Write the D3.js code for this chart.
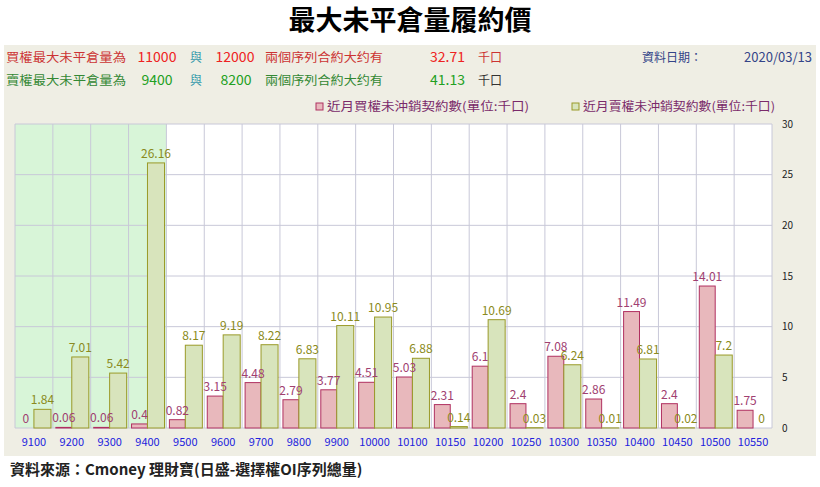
<!DOCTYPE html><html><head><meta charset="utf-8"><script src="https://cdn.jsdelivr.net/npm/d3@7"></script>
<style>body{margin:0;background:#fff;font-family:"Noto Sans CJK TC","Noto Sans",sans-serif}</style></head><body><svg id="c" width="820" height="487"></svg>
<script>
const strikes=["9100","9200","9300","9400","9500","9600","9700","9800","9900","10000","10100","10150","10200","10250","10300","10350","10400","10450","10500","10550"];
const callOI=[0,0.06,0.06,0.4,0.82,3.15,4.48,2.79,3.77,4.51,5.03,2.31,6.1,2.4,7.08,2.86,11.49,2.4,14.01,1.75];
const putOI=[1.84,7.01,5.42,26.16,8.17,9.19,8.22,6.83,10.11,10.95,6.88,0.14,10.69,0.03,6.24,0.01,6.81,0.02,7.2,0];
const yTicks=[0,5,10,15,20,25,30];
const shaded=["9100","9200","9300","9400"];
const svg=d3.select("#c");
const F='"Noto Sans CJK TC",sans-serif';
svg.append("text").attr("x",410).attr("y",30).attr("text-anchor","middle").attr("font-size",27).attr("font-weight","bold").attr("font-family",F).text("最大未平倉量履約價");
svg.append("rect").attr("x",4).attr("y",45).attr("width",812).attr("height",411).attr("fill","#efeee4");
const L=15,R=772,T=124,B=428;
const x=d3.scaleBand().domain(strikes).range([L,R]);
const y=d3.scaleLinear().domain([0,30]).range([B,T]);
svg.append("rect").attr("x",L).attr("y",T).attr("width",R-L).attr("height",B-T).attr("fill","#fff");
svg.append("rect").attr("x",x(shaded[0])).attr("y",T).attr("width",x.bandwidth()*shaded.length).attr("height",B-T).attr("fill","#d8f5d8");
const g=svg.append("g");
yTicks.forEach(t=>g.append("line").attr("x1",L).attr("x2",R).attr("y1",y(t)).attr("y2",y(t)).attr("stroke","#c8c8d8"));
strikes.forEach(s=>g.append("line").attr("x1",x(s)).attr("x2",x(s)).attr("y1",T).attr("y2",B).attr("stroke","#c8c8d8"));
g.append("line").attr("x1",R).attr("x2",R).attr("y1",T).attr("y2",B).attr("stroke","#c8c8d8");
const bw=x.bandwidth();
svg.selectAll(".cb").data(strikes).enter().append("rect").attr("x",d=>x(d)+3).attr("width",bw*0.42).attr("y",(d,i)=>y(callOI[i])).attr("height",(d,i)=>B-y(callOI[i])).attr("fill","#e8b8bc").attr("stroke","#b03060").attr("stroke-width",1);
svg.selectAll(".pb").data(strikes).enter().append("rect").attr("x",d=>x(d)+bw*0.5).attr("width",bw*0.45).attr("y",(d,i)=>y(putOI[i])).attr("height",(d,i)=>B-y(putOI[i])).attr("fill","#d8e4bc").attr("stroke","#9a9a28").attr("stroke-width",1);
svg.selectAll(".cl").data(strikes).enter().append("text").attr("x",d=>x(d)+3+bw*0.21).attr("y",(d,i)=>y(callOI[i])-5).attr("text-anchor","middle").attr("font-size",12).attr("font-family",F).attr("fill","#a04070").text((d,i)=>callOI[i]);
svg.selectAll(".pl").data(strikes).enter().append("text").attr("x",d=>x(d)+bw*0.725).attr("y",(d,i)=>y(putOI[i])-5).attr("text-anchor","middle").attr("font-size",12).attr("font-family",F).attr("fill","#8a8a20").text((d,i)=>putOI[i]);
const xa=svg.append("g").attr("transform",`translate(0,${B})`).call(d3.axisBottom(x).tickSize(0).tickPadding(10));
xa.select(".domain").remove();xa.selectAll("text").attr("fill","#2222dd").attr("font-size",11).attr("font-family",F);
const ya=svg.append("g").attr("transform",`translate(${R+8},0)`).call(d3.axisRight(y).tickValues(yTicks).tickSize(0).tickPadding(2));
ya.select(".domain").remove();ya.selectAll("text").attr("fill","#222").attr("font-size",10).attr("font-family",F);
function t(x0,y0,s,c,a,len,fs){const e=svg.append("text").attr("x",x0).attr("y",y0).attr("fill",c).attr("font-size",fs||12).attr("font-family",F).attr("text-anchor",a||"start").text(s);if(len)e.attr("textLength",len).attr("lengthAdjust","spacingAndGlyphs");}
const red="#ee2222",grn="#22a022";
t(6,62,"買權最大未平倉量為","#cc3333","start",120);t(157,62,"11000",red,"middle",null,14);t(196,62,"與","#3399aa","middle");t(235,62,"12000",red,"middle",null,14);t(265,62,"兩個序列合約大约有","#cc3333","start",118);t(465,62,"32.71",red,"end",null,14);t(478,62,"千口","#cc3333");
t(6,85,"賣權最大未平倉量為","#338833","start",120);t(157,85,"9400",grn,"middle",null,14);t(196,85,"與","#3399aa","middle");t(236,85,"8200",grn,"middle",null,14);t(265,85,"兩個序列合約大约有","#338833","start",118);t(465,85,"41.13",grn,"end",null,14);t(478,85,"千口","#333");
t(642,62,"資料日期：","#334488");t(812,62,"2020/03/13","#334488","end",null,13);
svg.append("rect").attr("x",316).attr("y",103).attr("width",7).attr("height",7).attr("fill","#e8b8bc").attr("stroke","#b03060");
t(327,111,"近月買權未沖銷契約數(單位:千口)","#7a2a6a","start",202);
svg.append("rect").attr("x",572).attr("y",103).attr("width",7).attr("height",7).attr("fill","#d8e4bc").attr("stroke","#9a9a28");
t(583,111,"近月賣權未沖銷契約數(單位:千口)","#7a2a6a","start",192);
svg.append("text").attr("x",10).attr("y",475).attr("font-size",15).attr("font-weight","bold").attr("font-family",F).attr("fill","#222").text("資料來源：Cmoney 理財寶(日盛-選擇權OI序列總量)");
</script></body></html>
